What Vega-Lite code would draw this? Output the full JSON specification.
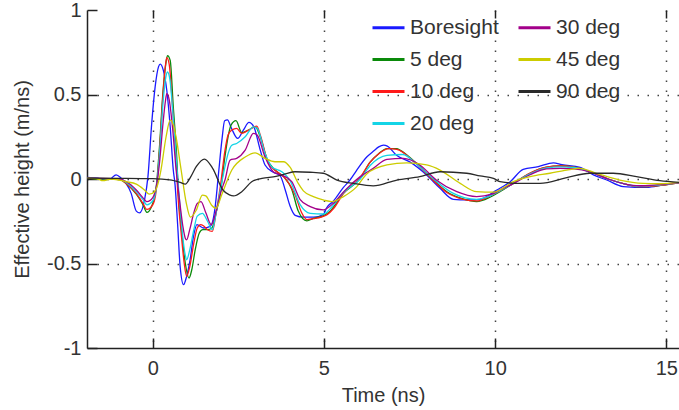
{
  "$schema": "https://vega.github.io/schema/vega-lite/v6.json",
  "width": 592,
  "height": 338,
  "autosize": {"type": "none"},
  "padding": {"left": 87, "top": 10, "right": 0, "bottom": 62},
  "background": "white",
  "config": {
    "view": {"stroke": null},
    "font": "Liberation Sans",
    "axis": {"labelFont": "Liberation Sans", "titleFont": "Liberation Sans", "labelFontSize": 20, "titleFontSize": 20, "labelColor": "#333333", "titleColor": "#333333", "titleFontWeight": "normal", "domainColor": "#222222", "domainWidth": 1.5, "tickColor": "#222222", "tickWidth": 1.5}
  },
  "datasets": {
    "curves": [
      {"s":"Boresight","t":-1.92,"v":0.01},{"s":"Boresight","t":-1.6,"v":0.005},{"s":"Boresight","t":-1.46,"v":-0.003},{"s":"Boresight","t":-1.25,"v":0.0},{"s":"Boresight","t":-1.07,"v":0.025},{"s":"Boresight","t":-0.92,"v":0.004},{"s":"Boresight","t":-0.78,"v":-0.026},{"s":"Boresight","t":-0.63,"v":-0.085},{"s":"Boresight","t":-0.48,"v":-0.19},{"s":"Boresight","t":-0.38,"v":-0.2},{"s":"Boresight","t":-0.24,"v":-0.124},{"s":"Boresight","t":-0.14,"v":0.014},{"s":"Boresight","t":-0.03,"v":0.329},{"s":"Boresight","t":0.07,"v":0.545},{"s":"Boresight","t":0.17,"v":0.665},{"s":"Boresight","t":0.22,"v":0.68},{"s":"Boresight","t":0.31,"v":0.643},{"s":"Boresight","t":0.41,"v":0.525},{"s":"Boresight","t":0.51,"v":0.309},{"s":"Boresight","t":0.6,"v":0.053},{"s":"Boresight","t":0.65,"v":-0.03},{"s":"Boresight","t":0.73,"v":-0.28},{"s":"Boresight","t":0.8,"v":-0.517},{"s":"Boresight","t":0.9,"v":-0.625},{"s":"Boresight","t":0.99,"v":-0.576},{"s":"Boresight","t":1.09,"v":-0.48},{"s":"Boresight","t":1.19,"v":-0.34},{"s":"Boresight","t":1.29,"v":-0.27},{"s":"Boresight","t":1.48,"v":-0.29},{"s":"Boresight","t":1.68,"v":-0.28},{"s":"Boresight","t":1.82,"v":-0.17},{"s":"Boresight","t":1.92,"v":0.03},{"s":"Boresight","t":2.02,"v":0.23},{"s":"Boresight","t":2.1,"v":0.345},{"s":"Boresight","t":2.18,"v":0.35},{"s":"Boresight","t":2.3,"v":0.3},{"s":"Boresight","t":2.48,"v":0.24},{"s":"Boresight","t":2.65,"v":0.29},{"s":"Boresight","t":2.81,"v":0.335},{"s":"Boresight","t":2.95,"v":0.31},{"s":"Boresight","t":3.14,"v":0.171},{"s":"Boresight","t":3.28,"v":0.083},{"s":"Boresight","t":3.52,"v":0.04},{"s":"Boresight","t":3.72,"v":0.02},{"s":"Boresight","t":3.87,"v":-0.065},{"s":"Boresight","t":4.01,"v":-0.16},{"s":"Boresight","t":4.16,"v":-0.215},{"s":"Boresight","t":4.4,"v":-0.226},{"s":"Boresight","t":4.7,"v":-0.226},{"s":"Boresight","t":4.98,"v":-0.21},{"s":"Boresight","t":5.08,"v":-0.17},{"s":"Boresight","t":5.28,"v":-0.13},{"s":"Boresight","t":5.57,"v":-0.05},{"s":"Boresight","t":5.76,"v":-0.006},{"s":"Boresight","t":5.95,"v":0.05},{"s":"Boresight","t":6.25,"v":0.13},{"s":"Boresight","t":6.45,"v":0.165},{"s":"Boresight","t":6.6,"v":0.19},{"s":"Boresight","t":6.74,"v":0.2},{"s":"Boresight","t":6.85,"v":0.195},{"s":"Boresight","t":7.12,"v":0.14},{"s":"Boresight","t":7.52,"v":0.1},{"s":"Boresight","t":8.0,"v":0.024},{"s":"Boresight","t":8.39,"v":-0.055},{"s":"Boresight","t":8.78,"v":-0.12},{"s":"Boresight","t":9.17,"v":-0.124},{"s":"Boresight","t":9.56,"v":-0.12},{"s":"Boresight","t":10.05,"v":-0.065},{"s":"Boresight","t":10.44,"v":-0.016},{"s":"Boresight","t":10.82,"v":0.057},{"s":"Boresight","t":11.26,"v":0.073},{"s":"Boresight","t":11.7,"v":0.096},{"s":"Boresight","t":11.95,"v":0.085},{"s":"Boresight","t":12.48,"v":0.069},{"s":"Boresight","t":12.87,"v":0.024},{"s":"Boresight","t":13.26,"v":-0.006},{"s":"Boresight","t":13.74,"v":-0.045},{"s":"Boresight","t":14.43,"v":-0.05},{"s":"Boresight","t":14.91,"v":-0.035},{"s":"Boresight","t":15.37,"v":-0.022},

      {"s":"5 deg","t":-1.92,"v":0.005},{"s":"5 deg","t":-1.5,"v":0.0},{"s":"5 deg","t":-1.0,"v":0.0},{"s":"5 deg","t":-0.78,"v":-0.026},{"s":"5 deg","t":-0.48,"v":-0.09},{"s":"5 deg","t":-0.29,"v":-0.15},{"s":"5 deg","t":-0.17,"v":-0.197},{"s":"5 deg","t":-0.05,"v":-0.17},{"s":"5 deg","t":0.1,"v":-0.05},{"s":"5 deg","t":0.2,"v":0.2},{"s":"5 deg","t":0.3,"v":0.52},{"s":"5 deg","t":0.38,"v":0.68},{"s":"5 deg","t":0.43,"v":0.73},{"s":"5 deg","t":0.51,"v":0.702},{"s":"5 deg","t":0.6,"v":0.427},{"s":"5 deg","t":0.7,"v":0.132},{"s":"5 deg","t":0.75,"v":-0.085},{"s":"5 deg","t":0.85,"v":-0.32},{"s":"5 deg","t":0.95,"v":-0.497},{"s":"5 deg","t":1.06,"v":-0.586},{"s":"5 deg","t":1.14,"v":-0.537},{"s":"5 deg","t":1.24,"v":-0.42},{"s":"5 deg","t":1.36,"v":-0.32},{"s":"5 deg","t":1.46,"v":-0.3},{"s":"5 deg","t":1.6,"v":-0.3},{"s":"5 deg","t":1.73,"v":-0.29},{"s":"5 deg","t":1.85,"v":-0.2},{"s":"5 deg","t":1.97,"v":-0.09},{"s":"5 deg","t":2.1,"v":0.12},{"s":"5 deg","t":2.2,"v":0.25},{"s":"5 deg","t":2.29,"v":0.32},{"s":"5 deg","t":2.43,"v":0.345},{"s":"5 deg","t":2.6,"v":0.275},{"s":"5 deg","t":2.8,"v":0.29},{"s":"5 deg","t":2.99,"v":0.31},{"s":"5 deg","t":3.14,"v":0.25},{"s":"5 deg","t":3.33,"v":0.122},{"s":"5 deg","t":3.57,"v":0.053},{"s":"5 deg","t":3.82,"v":0.014},{"s":"5 deg","t":4.06,"v":-0.06},{"s":"5 deg","t":4.25,"v":-0.19},{"s":"5 deg","t":4.5,"v":-0.248},{"s":"5 deg","t":4.69,"v":-0.233},{"s":"5 deg","t":4.98,"v":-0.218},{"s":"5 deg","t":5.18,"v":-0.19},{"s":"5 deg","t":5.57,"v":-0.085},{"s":"5 deg","t":6.06,"v":0.004},{"s":"5 deg","t":6.35,"v":0.1},{"s":"5 deg","t":6.6,"v":0.15},{"s":"5 deg","t":6.84,"v":0.18},{"s":"5 deg","t":7.13,"v":0.18},{"s":"5 deg","t":7.22,"v":0.171},{"s":"5 deg","t":7.7,"v":0.093},{"s":"5 deg","t":8.2,"v":-0.006},{"s":"5 deg","t":8.59,"v":-0.075},{"s":"5 deg","t":9.07,"v":-0.118},{"s":"5 deg","t":9.46,"v":-0.134},{"s":"5 deg","t":9.85,"v":-0.108},{"s":"5 deg","t":10.14,"v":-0.075},{"s":"5 deg","t":10.5,"v":-0.03},{"s":"5 deg","t":11.02,"v":0.034},{"s":"5 deg","t":11.5,"v":0.07},{"s":"5 deg","t":11.9,"v":0.077},{"s":"5 deg","t":12.3,"v":0.07},{"s":"5 deg","t":12.8,"v":0.04},{"s":"5 deg","t":13.3,"v":0.0},{"s":"5 deg","t":13.8,"v":-0.03},{"s":"5 deg","t":14.2,"v":-0.045},{"s":"5 deg","t":14.7,"v":-0.04},{"s":"5 deg","t":15.37,"v":-0.022},

      {"s":"10 deg","t":-1.92,"v":0.005},{"s":"10 deg","t":-1.0,"v":0.0},{"s":"10 deg","t":-0.78,"v":-0.026},{"s":"10 deg","t":-0.48,"v":-0.085},{"s":"10 deg","t":-0.29,"v":-0.143},{"s":"10 deg","t":-0.17,"v":-0.18},{"s":"10 deg","t":0.0,"v":-0.153},{"s":"10 deg","t":0.1,"v":-0.07},{"s":"10 deg","t":0.2,"v":0.17},{"s":"10 deg","t":0.3,"v":0.5},{"s":"10 deg","t":0.37,"v":0.67},{"s":"10 deg","t":0.41,"v":0.718},{"s":"10 deg","t":0.48,"v":0.68},{"s":"10 deg","t":0.58,"v":0.42},{"s":"10 deg","t":0.68,"v":0.12},{"s":"10 deg","t":0.73,"v":-0.08},{"s":"10 deg","t":0.83,"v":-0.32},{"s":"10 deg","t":0.92,"v":-0.5},{"s":"10 deg","t":0.99,"v":-0.576},{"s":"10 deg","t":1.08,"v":-0.52},{"s":"10 deg","t":1.2,"v":-0.38},{"s":"10 deg","t":1.3,"v":-0.29},{"s":"10 deg","t":1.4,"v":-0.27},{"s":"10 deg","t":1.48,"v":-0.277},{"s":"10 deg","t":1.6,"v":-0.3},{"s":"10 deg","t":1.74,"v":-0.31},{"s":"10 deg","t":1.85,"v":-0.2},{"s":"10 deg","t":1.97,"v":-0.05},{"s":"10 deg","t":2.11,"v":0.17},{"s":"10 deg","t":2.2,"v":0.26},{"s":"10 deg","t":2.31,"v":0.29},{"s":"10 deg","t":2.45,"v":0.3},{"s":"10 deg","t":2.6,"v":0.27},{"s":"10 deg","t":2.8,"v":0.29},{"s":"10 deg","t":3.04,"v":0.313},{"s":"10 deg","t":3.14,"v":0.26},{"s":"10 deg","t":3.38,"v":0.093},{"s":"10 deg","t":3.63,"v":0.043},{"s":"10 deg","t":3.87,"v":0.004},{"s":"10 deg","t":4.16,"v":-0.094},{"s":"10 deg","t":4.35,"v":-0.2},{"s":"10 deg","t":4.5,"v":-0.24},{"s":"10 deg","t":4.7,"v":-0.235},{"s":"10 deg","t":5.08,"v":-0.212},{"s":"10 deg","t":5.3,"v":-0.17},{"s":"10 deg","t":5.57,"v":-0.085},{"s":"10 deg","t":6.06,"v":0.01},{"s":"10 deg","t":6.35,"v":0.1},{"s":"10 deg","t":6.6,"v":0.15},{"s":"10 deg","t":6.9,"v":0.18},{"s":"10 deg","t":7.13,"v":0.175},{"s":"10 deg","t":7.7,"v":0.09},{"s":"10 deg","t":8.2,"v":-0.01},{"s":"10 deg","t":8.59,"v":-0.08},{"s":"10 deg","t":9.07,"v":-0.12},{"s":"10 deg","t":9.46,"v":-0.13},{"s":"10 deg","t":9.85,"v":-0.1},{"s":"10 deg","t":10.14,"v":-0.07},{"s":"10 deg","t":10.5,"v":-0.03},{"s":"10 deg","t":11.02,"v":0.035},{"s":"10 deg","t":11.5,"v":0.07},{"s":"10 deg","t":11.9,"v":0.077},{"s":"10 deg","t":12.3,"v":0.07},{"s":"10 deg","t":12.8,"v":0.04},{"s":"10 deg","t":13.3,"v":0.0},{"s":"10 deg","t":13.8,"v":-0.03},{"s":"10 deg","t":14.2,"v":-0.045},{"s":"10 deg","t":14.7,"v":-0.04},{"s":"10 deg","t":15.37,"v":-0.022},

      {"s":"20 deg","t":-1.92,"v":0.005},{"s":"20 deg","t":-1.0,"v":0.0},{"s":"20 deg","t":-0.78,"v":-0.02},{"s":"20 deg","t":-0.48,"v":-0.075},{"s":"20 deg","t":-0.29,"v":-0.12},{"s":"20 deg","t":-0.17,"v":-0.153},{"s":"20 deg","t":0.0,"v":-0.13},{"s":"20 deg","t":0.1,"v":-0.06},{"s":"20 deg","t":0.2,"v":0.15},{"s":"20 deg","t":0.3,"v":0.45},{"s":"20 deg","t":0.38,"v":0.6},{"s":"20 deg","t":0.43,"v":0.633},{"s":"20 deg","t":0.5,"v":0.59},{"s":"20 deg","t":0.6,"v":0.36},{"s":"20 deg","t":0.7,"v":0.08},{"s":"20 deg","t":0.78,"v":-0.12},{"s":"20 deg","t":0.87,"v":-0.33},{"s":"20 deg","t":0.95,"v":-0.45},{"s":"20 deg","t":0.99,"v":-0.478},{"s":"20 deg","t":1.08,"v":-0.42},{"s":"20 deg","t":1.2,"v":-0.3},{"s":"20 deg","t":1.3,"v":-0.22},{"s":"20 deg","t":1.45,"v":-0.203},{"s":"20 deg","t":1.6,"v":-0.25},{"s":"20 deg","t":1.74,"v":-0.3},{"s":"20 deg","t":1.85,"v":-0.2},{"s":"20 deg","t":1.97,"v":-0.07},{"s":"20 deg","t":2.11,"v":0.073},{"s":"20 deg","t":2.2,"v":0.15},{"s":"20 deg","t":2.31,"v":0.2},{"s":"20 deg","t":2.45,"v":0.21},{"s":"20 deg","t":2.7,"v":0.25},{"s":"20 deg","t":2.94,"v":0.308},{"s":"20 deg","t":3.05,"v":0.3},{"s":"20 deg","t":3.28,"v":0.152},{"s":"20 deg","t":3.47,"v":0.073},{"s":"20 deg","t":3.77,"v":0.043},{"s":"20 deg","t":4.01,"v":-0.01},{"s":"20 deg","t":4.3,"v":-0.15},{"s":"20 deg","t":4.6,"v":-0.203},{"s":"20 deg","t":4.98,"v":-0.207},{"s":"20 deg","t":5.28,"v":-0.153},{"s":"20 deg","t":5.57,"v":-0.08},{"s":"20 deg","t":6.06,"v":0.0},{"s":"20 deg","t":6.35,"v":0.08},{"s":"20 deg","t":6.84,"v":0.14},{"s":"20 deg","t":7.3,"v":0.145},{"s":"20 deg","t":7.7,"v":0.09},{"s":"20 deg","t":8.2,"v":0.0},{"s":"20 deg","t":8.78,"v":-0.085},{"s":"20 deg","t":9.46,"v":-0.12},{"s":"20 deg","t":9.85,"v":-0.1},{"s":"20 deg","t":10.14,"v":-0.07},{"s":"20 deg","t":10.5,"v":-0.03},{"s":"20 deg","t":11.02,"v":0.03},{"s":"20 deg","t":11.5,"v":0.065},{"s":"20 deg","t":11.9,"v":0.072},{"s":"20 deg","t":12.3,"v":0.068},{"s":"20 deg","t":12.8,"v":0.04},{"s":"20 deg","t":13.3,"v":0.0},{"s":"20 deg","t":13.8,"v":-0.03},{"s":"20 deg","t":14.2,"v":-0.042},{"s":"20 deg","t":14.7,"v":-0.038},{"s":"20 deg","t":15.37,"v":-0.022},

      {"s":"30 deg","t":-1.92,"v":0.005},{"s":"30 deg","t":-1.0,"v":0.0},{"s":"30 deg","t":-0.78,"v":-0.015},{"s":"30 deg","t":-0.48,"v":-0.065},{"s":"30 deg","t":-0.29,"v":-0.11},{"s":"30 deg","t":-0.17,"v":-0.134},{"s":"30 deg","t":0.0,"v":-0.11},{"s":"30 deg","t":0.1,"v":-0.05},{"s":"30 deg","t":0.2,"v":0.1},{"s":"30 deg","t":0.3,"v":0.33},{"s":"30 deg","t":0.37,"v":0.46},{"s":"30 deg","t":0.41,"v":0.505},{"s":"30 deg","t":0.48,"v":0.47},{"s":"30 deg","t":0.58,"v":0.3},{"s":"30 deg","t":0.68,"v":0.06},{"s":"30 deg","t":0.78,"v":-0.12},{"s":"30 deg","t":0.88,"v":-0.28},{"s":"30 deg","t":0.95,"v":-0.35},{"s":"30 deg","t":0.99,"v":-0.36},{"s":"30 deg","t":1.08,"v":-0.3},{"s":"30 deg","t":1.2,"v":-0.2},{"s":"30 deg","t":1.3,"v":-0.145},{"s":"30 deg","t":1.41,"v":-0.134},{"s":"30 deg","t":1.55,"v":-0.2},{"s":"30 deg","t":1.71,"v":-0.27},{"s":"30 deg","t":1.85,"v":-0.19},{"s":"30 deg","t":2.0,"v":-0.07},{"s":"30 deg","t":2.11,"v":-0.006},{"s":"30 deg","t":2.26,"v":0.112},{"s":"30 deg","t":2.45,"v":0.122},{"s":"30 deg","t":2.7,"v":0.171},{"s":"30 deg","t":2.94,"v":0.27},{"s":"30 deg","t":3.05,"v":0.26},{"s":"30 deg","t":3.28,"v":0.13},{"s":"30 deg","t":3.52,"v":0.043},{"s":"30 deg","t":3.8,"v":0.02},{"s":"30 deg","t":4.06,"v":-0.016},{"s":"30 deg","t":4.3,"v":-0.12},{"s":"30 deg","t":4.6,"v":-0.163},{"s":"30 deg","t":4.98,"v":-0.183},{"s":"30 deg","t":5.28,"v":-0.143},{"s":"30 deg","t":5.6,"v":-0.07},{"s":"30 deg","t":6.06,"v":0.014},{"s":"30 deg","t":6.44,"v":0.063},{"s":"30 deg","t":6.84,"v":0.116},{"s":"30 deg","t":7.32,"v":0.122},{"s":"30 deg","t":7.8,"v":0.083},{"s":"30 deg","t":8.28,"v":-0.006},{"s":"30 deg","t":8.88,"v":-0.075},{"s":"30 deg","t":9.46,"v":-0.104},{"s":"30 deg","t":9.9,"v":-0.09},{"s":"30 deg","t":10.14,"v":-0.065},{"s":"30 deg","t":10.5,"v":-0.03},{"s":"30 deg","t":11.02,"v":0.025},{"s":"30 deg","t":11.5,"v":0.06},{"s":"30 deg","t":11.9,"v":0.063},{"s":"30 deg","t":12.3,"v":0.06},{"s":"30 deg","t":12.8,"v":0.04},{"s":"30 deg","t":13.3,"v":0.0},{"s":"30 deg","t":13.8,"v":-0.03},{"s":"30 deg","t":14.2,"v":-0.04},{"s":"30 deg","t":14.7,"v":-0.035},{"s":"30 deg","t":15.37,"v":-0.022},

      {"s":"45 deg","t":-1.92,"v":0.005},{"s":"45 deg","t":-1.6,"v":0.0},{"s":"45 deg","t":-1.46,"v":-0.01},{"s":"45 deg","t":-1.2,"v":0.0},{"s":"45 deg","t":-0.78,"v":-0.016},{"s":"45 deg","t":-0.48,"v":-0.03},{"s":"45 deg","t":-0.24,"v":-0.065},{"s":"45 deg","t":-0.1,"v":-0.09},{"s":"45 deg","t":0.05,"v":-0.075},{"s":"45 deg","t":0.15,"v":-0.03},{"s":"45 deg","t":0.24,"v":0.053},{"s":"45 deg","t":0.39,"v":0.25},{"s":"45 deg","t":0.51,"v":0.348},{"s":"45 deg","t":0.6,"v":0.32},{"s":"45 deg","t":0.68,"v":0.25},{"s":"45 deg","t":0.83,"v":0.053},{"s":"45 deg","t":0.98,"v":-0.143},{"s":"45 deg","t":1.1,"v":-0.226},{"s":"45 deg","t":1.27,"v":-0.185},{"s":"45 deg","t":1.45,"v":-0.095},{"s":"45 deg","t":1.55,"v":-0.1},{"s":"45 deg","t":1.72,"v":-0.155},{"s":"45 deg","t":1.85,"v":-0.173},{"s":"45 deg","t":2.02,"v":-0.09},{"s":"45 deg","t":2.31,"v":0.053},{"s":"45 deg","t":2.7,"v":0.13},{"s":"45 deg","t":2.99,"v":0.155},{"s":"45 deg","t":3.28,"v":0.122},{"s":"45 deg","t":3.57,"v":0.102},{"s":"45 deg","t":3.82,"v":0.102},{"s":"45 deg","t":4.01,"v":0.07},{"s":"45 deg","t":4.25,"v":-0.026},{"s":"45 deg","t":4.4,"v":-0.07},{"s":"45 deg","t":4.69,"v":-0.104},{"s":"45 deg","t":5.0,"v":-0.125},{"s":"45 deg","t":5.23,"v":-0.134},{"s":"45 deg","t":5.57,"v":-0.104},{"s":"45 deg","t":5.96,"v":-0.045},{"s":"45 deg","t":6.25,"v":0.03},{"s":"45 deg","t":6.84,"v":0.083},{"s":"45 deg","t":7.42,"v":0.096},{"s":"45 deg","t":8.0,"v":0.083},{"s":"45 deg","t":8.39,"v":0.053},{"s":"45 deg","t":8.98,"v":-0.026},{"s":"45 deg","t":9.46,"v":-0.075},{"s":"45 deg","t":9.95,"v":-0.078},{"s":"45 deg","t":10.53,"v":-0.016},{"s":"45 deg","t":11.02,"v":0.014},{"s":"45 deg","t":11.6,"v":0.034},{"s":"45 deg","t":12.09,"v":0.053},{"s":"45 deg","t":12.48,"v":0.063},{"s":"45 deg","t":12.95,"v":0.034},{"s":"45 deg","t":13.64,"v":-0.006},{"s":"45 deg","t":14.32,"v":-0.026},{"s":"45 deg","t":14.8,"v":-0.028},{"s":"45 deg","t":15.37,"v":-0.02},

      {"s":"90 deg","t":-1.92,"v":0.005},{"s":"90 deg","t":-1.0,"v":0.004},{"s":"90 deg","t":0.0,"v":0.002},{"s":"90 deg","t":0.5,"v":-0.005},{"s":"90 deg","t":0.8,"v":-0.02},{"s":"90 deg","t":0.95,"v":-0.03},{"s":"90 deg","t":1.1,"v":0.01},{"s":"90 deg","t":1.27,"v":0.073},{"s":"90 deg","t":1.51,"v":0.118},{"s":"90 deg","t":1.75,"v":0.063},{"s":"90 deg","t":2.05,"v":-0.065},{"s":"90 deg","t":2.24,"v":-0.094},{"s":"90 deg","t":2.36,"v":-0.1},{"s":"90 deg","t":2.6,"v":-0.075},{"s":"90 deg","t":2.89,"v":-0.016},{"s":"90 deg","t":3.19,"v":0.004},{"s":"90 deg","t":3.6,"v":0.015},{"s":"90 deg","t":3.87,"v":0.03},{"s":"90 deg","t":4.16,"v":0.043},{"s":"90 deg","t":4.6,"v":0.04},{"s":"90 deg","t":4.98,"v":0.034},{"s":"90 deg","t":5.38,"v":-0.006},{"s":"90 deg","t":5.86,"v":-0.026},{"s":"90 deg","t":6.44,"v":-0.041},{"s":"90 deg","t":7.13,"v":-0.006},{"s":"90 deg","t":7.8,"v":0.014},{"s":"90 deg","t":8.39,"v":0.043},{"s":"90 deg","t":9.17,"v":0.034},{"s":"90 deg","t":9.56,"v":0.018},{"s":"90 deg","t":9.95,"v":0.004},{"s":"90 deg","t":10.14,"v":-0.016},{"s":"90 deg","t":10.73,"v":-0.026},{"s":"90 deg","t":11.31,"v":-0.026},{"s":"90 deg","t":12.09,"v":0.008},{"s":"90 deg","t":12.77,"v":0.034},{"s":"90 deg","t":13.45,"v":0.034},{"s":"90 deg","t":14.13,"v":0.014},{"s":"90 deg","t":14.81,"v":-0.01},{"s":"90 deg","t":15.37,"v":-0.02}
    ]
  },
  "data": {"name": "curves"},
  "resolve": {"axis": {"x": "independent", "y": "independent"}},
  "layer": [
    {
      "mark": {"type": "line", "strokeWidth": 1.3, "interpolate": "monotone", "clip": true},
      "encoding": {
        "x": {"field": "t", "type": "quantitative", "scale": {"domain": [-1.92, 15.37], "nice": false, "zero": false},
          "axis": {"orient": "bottom", "title": "Time (ns)", "values": [0, 5, 10, 15], "grid": true, "gridDash": [1.5, 8.5], "gridColor": "#222222", "gridWidth": 1.5, "gridOpacity": 0.85, "tickSize": -10, "labelPadding": 20, "titlePadding": 7}},
        "y": {"field": "v", "type": "quantitative", "scale": {"domain": [-1, 1], "nice": false},
          "axis": {"orient": "left", "title": "Effective height (m/ns)", "values": [-1, -0.5, 0, 0.5, 1], "labelExpr": "datum.value + ''", "grid": true, "gridDash": [1.5, 8.5], "gridColor": "#222222", "gridWidth": 1.5, "gridOpacity": {"condition": {"test": "abs(datum.value) == 1", "value": 0}, "value": 0.85}, "tickSize": -10, "labelPadding": 16, "titlePadding": 14}},
        "color": {"field": "s", "type": "nominal",
          "scale": {"domain": ["Boresight", "5 deg", "10 deg", "20 deg", "30 deg", "45 deg", "90 deg"],
                    "range": ["#1a1aff", "#0a8a0a", "#ff1a1a", "#14d4e6", "#a3008a", "#cccc00", "#2a2a2a"]},
          "legend": {"orient": "none", "legendX": 284, "legendY": 0, "columns": 2, "title": null, "symbolType": "stroke", "symbolSize": 1024, "symbolStrokeWidth": 3, "labelFontSize": 21, "labelFont": "Liberation Sans", "labelColor": "#333333", "rowPadding": 4, "columnPadding": 13, "labelOffset": 4}}
      }
    },
    {
      "mark": {"type": "line", "opacity": 0},
      "encoding": {
        "x": {"field": "t", "type": "quantitative", "axis": {"orient": "top", "title": null, "labels": false, "domain": false, "grid": false, "values": [0, 5, 10, 15], "tickSize": -8}},
        "y": {"field": "v", "type": "quantitative", "axis": null}
      }
    }
  ]
}
